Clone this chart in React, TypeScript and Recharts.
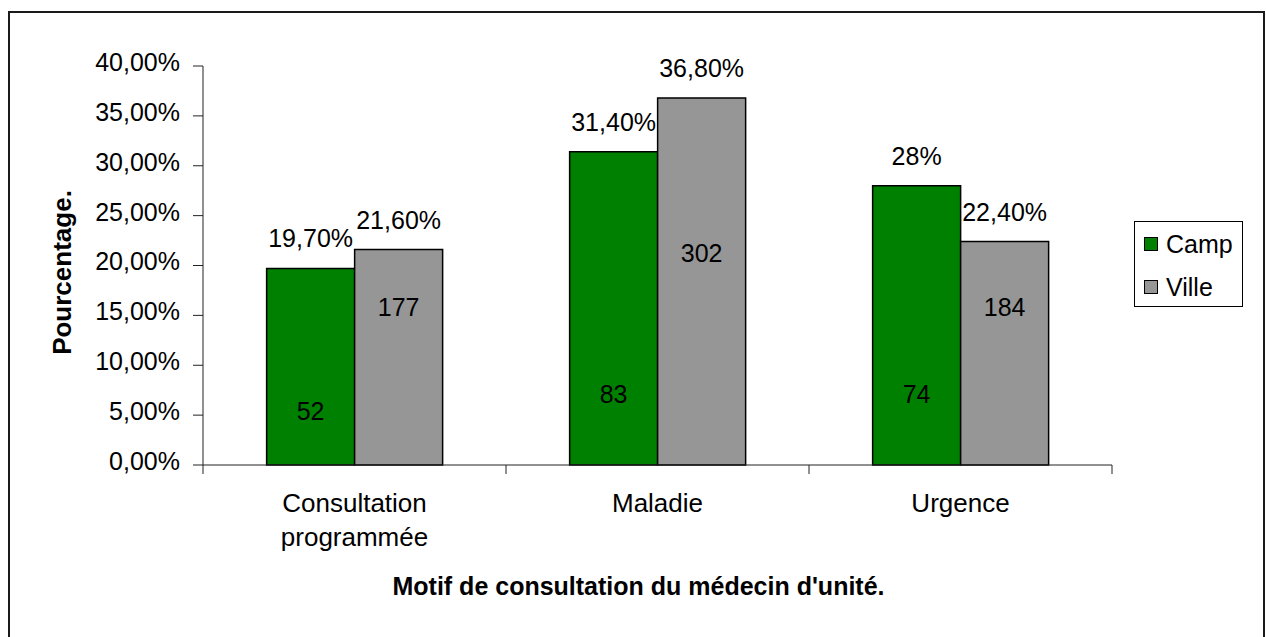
import { BarChart, Bar, XAxis, YAxis, Legend, LabelList, Label } from 'recharts';

const categories = ['Consultation programmée', 'Maladie', 'Urgence'];
const campValues = [19.7, 31.4, 28];
const villeValues = [21.6, 36.8, 22.4];
const campLabels = ['19,70%', '31,40%', '28%'];
const villeLabels = ['21,60%', '36,80%', '22,40%'];
const campCounts = [52, 83, 74];
const villeCounts = [177, 302, 184];
const yTicks = [0, 5, 10, 15, 20, 25, 30, 35, 40];

const data = categories.map((name, i) => ({ name, camp: campValues[i], ville: villeValues[i] }));

// where the count sits inside each bar, in axis units (placed by hand in the original)
const countLevels = { camp: [5.4, 7.1, 7.1], ville: [15.8, 21.2, 15.8] };

const FONT = '"Liberation Sans", Arial, sans-serif';
const FS = 25;
const CAT_FS = 26;
const AXIS = '#222';
const CHART_W = 1250;
const CHART_H = 622;
const MARGIN = { top: 53, right: 148, bottom: 110, left: 73 };
const Y_AXIS_W = 120;
const PLOT_W = CHART_W - MARGIN.left - MARGIN.right - Y_AXIS_W;
const BAND = PLOT_W / categories.length;

const fmtPct = (v: number) => v.toFixed(2).replace('.', ',') + '%';

function boxOf(props: any) {
  const vb = props.viewBox ?? props;
  return { x: vb.x, y: vb.y, width: vb.width, height: vb.height };
}

const pctLabel = (labels: string[]) => (props: any) => {
  const { x, y, width } = boxOf(props);
  return (
    <text x={x + width / 2} y={y - 21} textAnchor="middle" fontSize={FS} fontFamily={FONT} fill="#000">
      {labels[props.index]}
    </text>
  );
};

const countLabel = (counts: number[], levels: number[], values: number[]) => (props: any) => {
  const { x, y, width, height } = boxOf(props);
  const i = props.index;
  const cy = y + height - (height * levels[i]) / values[i];
  return (
    <text x={x + width / 2} y={cy} dy="0.355em" textAnchor="middle" fontSize={FS} fontFamily={FONT} fill="#000">
      {counts[i]}
    </text>
  );
};

function YTick(props: any) {
  const { x, y, payload } = props;
  return (
    <text x={x} y={y - 4} dy="0.355em" textAnchor="end" fontSize={FS} fontFamily={FONT} fill="#000">
      {fmtPct(payload.value)}
    </text>
  );
}

function XTick(props: any) {
  const { x, y, payload, index } = props;
  const lines = String(payload.value).split(' ');
  const half = BAND / 2;
  return (
    <g>
      <line x1={x - half} x2={x - half} y1={y} y2={y + 9} stroke={AXIS} />
      {index === categories.length - 1 && <line x1={x + half} x2={x + half} y1={y} y2={y + 9} stroke={AXIS} />}
      <text x={x} y={y + 47} textAnchor="middle" fontSize={CAT_FS} fontFamily={FONT} fill="#000">
        {lines.map((l, i) => (
          <tspan key={i} x={x} dy={i === 0 ? 0 : 34}>
            {l}
          </tspan>
        ))}
      </text>
    </g>
  );
}

function renderLegend(props: any) {
  const { payload = [] } = props;
  return (
    <div
      style={{
        width: 109,
        height: 86,
        boxSizing: 'border-box',
        border: '1px solid #000',
        background: '#fff',
        position: 'relative',
        fontFamily: FONT,
        fontSize: FS,
        color: '#000',
      }}
    >
      {payload.map((entry: any, i: number) => (
        <div
          key={entry.value}
          style={{ position: 'absolute', left: 9, top: 7 + i * 43, height: 30, display: 'flex', alignItems: 'center' }}
        >
          <span
            style={{
              width: 14,
              height: 14,
              boxSizing: 'border-box',
              border: '1.5px solid #000',
              background: entry.color,
              marginRight: 8,
            }}
          />
          <span style={{ lineHeight: '30px' }}>{entry.value}</span>
        </div>
      ))}
    </div>
  );
}

export default function App() {
  return (
    <div style={{ position: 'fixed', left: 0, top: 0, width: 1266, height: 637, overflow: 'hidden', background: '#fff' }}>
      <div
        style={{
          position: 'absolute',
          left: 8,
          top: 11,
          width: 1257,
          height: 640,
          boxSizing: 'border-box',
          border: '2px solid #1a1a1a',
        }}
      >
        <BarChart width={CHART_W} height={CHART_H} data={data} margin={MARGIN} barCategoryGap="21%" barGap={0}>
          <XAxis
            dataKey="name"
            height={60}
            interval={0}
            tickSize={0}
            tickMargin={0}
            axisLine={{ stroke: AXIS }}
            tick={<XTick />}
          >
            <Label
              content={(p: any) => {
                const vb = p.viewBox;
                return (
                  <text
                    x={vb.x + vb.width / 2 - 19}
                    y={vb.y + 130}
                    textAnchor="middle"
                    fontSize={FS}
                    fontWeight="bold"
                    fontFamily={FONT}
                    fill="#000"
                  >
                    Motif de consultation du médecin d'unité.
                  </text>
                );
              }}
            />
          </XAxis>
          <YAxis
            width={Y_AXIS_W}
            domain={[0, 40]}
            ticks={yTicks}
            interval={0}
            tickSize={10}
            tickMargin={13}
            axisLine={{ stroke: AXIS }}
            tickLine={{ stroke: AXIS }}
            tick={<YTick />}
          >
            <Label
              content={(p: any) => {
                const vb = p.viewBox;
                const cx = vb.x - 21;
                const cy = vb.y + vb.height / 2 + 7;
                return (
                  <text
                    x={cx}
                    y={cy}
                    dy="0.355em"
                    textAnchor="middle"
                    transform={`rotate(-90 ${cx} ${cy})`}
                    fontSize={CAT_FS}
                    fontWeight="bold"
                    fontFamily={FONT}
                    fill="#000"
                  >
                    Pourcentage.
                  </text>
                );
              }}
            />
          </YAxis>
          <Legend
            layout="vertical"
            align="center"
            verticalAlign="middle"
            wrapperStyle={{ left: 1124, top: 208, width: 109 }}
            content={renderLegend}
          />
          <Bar dataKey="camp" name="Camp" fill="#008000" stroke="#000" strokeWidth={1.5} isAnimationActive={false}>
            <LabelList dataKey="camp" content={pctLabel(campLabels)} />
            <LabelList dataKey="camp" content={countLabel(campCounts, countLevels.camp, campValues)} />
          </Bar>
          <Bar dataKey="ville" name="Ville" fill="#969696" stroke="#000" strokeWidth={1.5} isAnimationActive={false}>
            <LabelList dataKey="ville" content={pctLabel(villeLabels)} />
            <LabelList dataKey="ville" content={countLabel(villeCounts, countLevels.ville, villeValues)} />
          </Bar>
        </BarChart>
      </div>
    </div>
  );
}
